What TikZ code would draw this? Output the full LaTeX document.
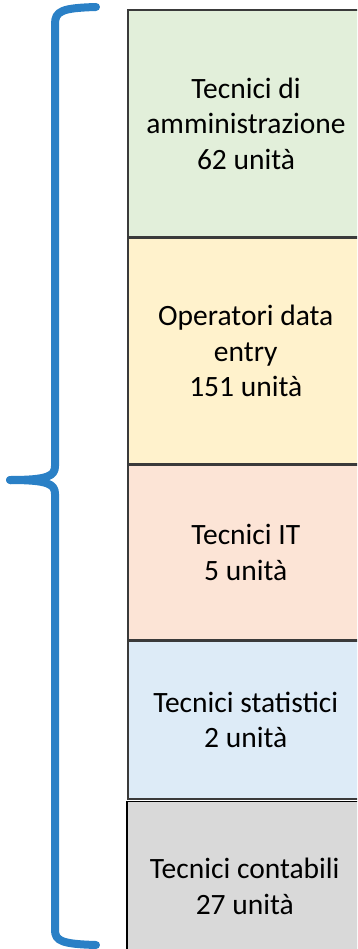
\documentclass[tikz,border=0pt]{standalone}
\usepackage{fontspec}
\setmainfont{Carlito}
\definecolor{bgreen}{HTML}{E2EFDA}
\definecolor{byellow}{HTML}{FFF2CC}
\definecolor{bpeach}{HTML}{FCE4D6}
\definecolor{bblue}{HTML}{DDEBF7}
\definecolor{bgray}{HTML}{D9D9D9}
\definecolor{bracecol}{HTML}{2A80C6}
\definecolor{edge}{HTML}{3A3A3A}
\begin{document}
\begin{tikzpicture}[x=1pt,y=-1pt,
  cell/.style={rectangle, draw=edge, line width=1.5pt, minimum width=236pt,
    anchor=north west, inner sep=0pt, align=center,
    font=\fontsize{29.5}{35.5}\selectfont},
  bracestyle/.style={draw=bracecol, line width=8pt, line cap=round, line join=round}]
\useasboundingbox (0,0) rectangle (357,949);
\clip (0,0) rectangle (357,949);
\node[cell, fill=bgreen, minimum height=227pt, line width=2pt] (c1) at (127,9) {Tecnici di\\amministrazione\\62 unità};
\node[cell, fill=byellow, minimum height=225pt] (c2) at (c1.south west) {Operatori data\\entry\\151 unità};
\node[cell, fill=bpeach, minimum height=174pt] (c3) at (c2.south west) {Tecnici IT\\5 unità};
\node[cell, fill=bblue, minimum height=158pt] (c4) at (c3.south west) {Tecnici statistici\\2 unità};
\node[cell, fill=bgray, minimum height=170pt, draw=black, yshift=-1pt, xshift=-1pt] (c5) at (c4.south west) {Tecnici contabili\\27 unità};
\coordinate (btop) at (96,7);
\coordinate (btip) at (10,480);
\coordinate (bbot) at (96,945);
\draw[bracestyle] (btop) .. controls (62,8) and (55,11) .. (55,24) -- (55,466)
  .. controls (55,476) and (48,480) .. (btip);
\draw[bracestyle] (btip) .. controls (48,480) and (55,484) .. (55,494) -- (55,930)
  .. controls (55,941) and (62,944) .. (bbot);
\end{tikzpicture}
\end{document}
